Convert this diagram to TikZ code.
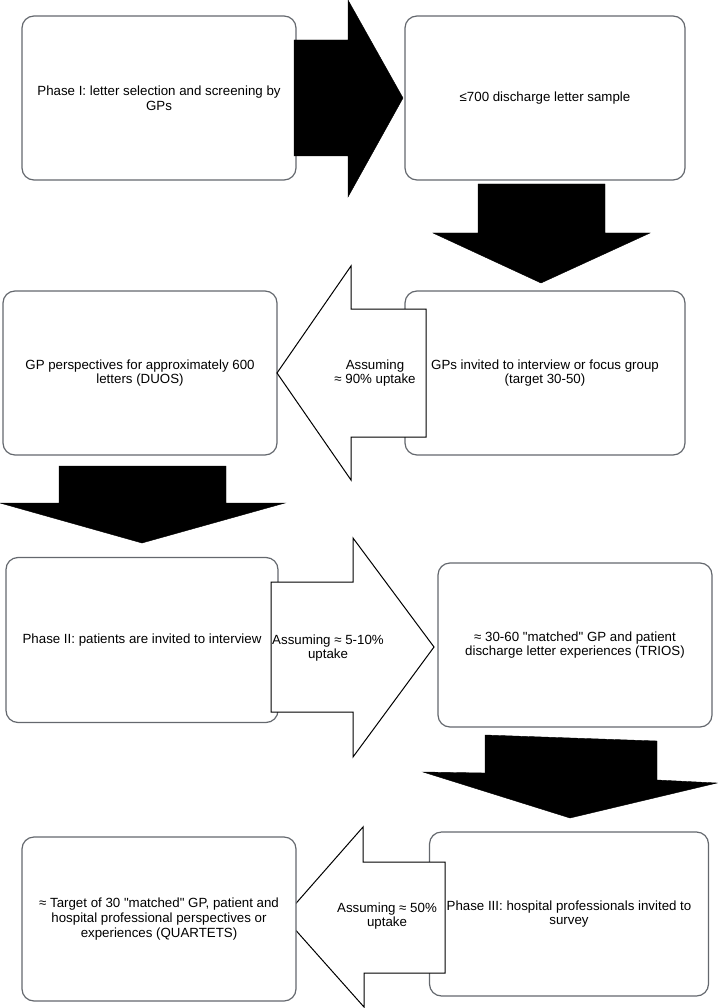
\documentclass[tikz,border=0pt]{standalone}
\usepackage{fontspec}
\setmainfont{Liberation Sans}
\usetikzlibrary{positioning}
\definecolor{boxgray}{RGB}{100,104,110}
\tikzset{
% Two box styles: rounded stage boxes and the texts inside the block arrows
stage box/.style={draw=boxgray,line width=1.2pt,rounded corners=12pt,fill=white,align=center,inner sep=0pt},
arrow text/.style={align=center,inner sep=0pt},
% Two block arrow styles: solid and hollow
solid arrow/.style={fill=black,draw=black,line width=0.4pt},
hollow arrow/.style={fill=white,draw=black,line width=1pt}
}

\begin{document}
\begin{tikzpicture}[x=1pt,y=-1pt,font=\fontsize{13.3}{14.6}\selectfont]
\useasboundingbox (0,0) rectangle (717,1008);
% Phase I
\node(letters)[stage box,minimum width=274,minimum height=164] at (159,98){Phase I: letter selection and screening by\\GPs};
\node(sample)[stage box,minimum width=280,minimum height=164] at (545,98){≤700 discharge letter sample};
\draw[solid arrow](294,40)--(348,40)--(348,0)--(403,98)--(348,197)--(348,156)--(294,156)--cycle;
\draw[solid arrow](478,184)--(605,184)--(605,233)--(650,233)--(541,283)--(433,233)--(478,233)--cycle;
% GP perspectives
\node(duos)[stage box,minimum width=274,minimum height=164] at (140,373){GP perspectives for approximately 600\\letters (DUOS)};
\node(gps)[stage box,minimum width=280,minimum height=164] at (545,373){GPs invited to interview or focus group\\(target 30-50)};
\draw[hollow arrow](426,309)--(351,309)--(351,266)--(277,373)--(351,480)--(351,437)--(426,437)--cycle;
\node(uptake1)[arrow text] at (375,373){Assuming\\≈ 90\% uptake};
\draw[solid arrow](59,466)--(226,466)--(226,503)--(285,503)--(142,543)--(0,503)--(59,503)--cycle;
% Phase II
\node(patients)[stage box,minimum width=272,minimum height=165] at (142,640){Phase II: patients are invited to interview};
\node(trios)[stage box,minimum width=274,minimum height=164] at (575,645){≈ 30-60 \textquotedbl matched\textquotedbl{} GP and patient\\discharge letter experiences (TRIOS)};
\draw[hollow arrow](271,582)--(353,582)--(353,538)--(434,647)--(353,757)--(353,712)--(271,712)--cycle;
\node(uptake2)[arrow text] at (328,648){Assuming ≈ 5-10\%\\uptake};
\draw[solid arrow](485,735)--(657,741)--(657,780)--(717,783)--(570,818)--(423,772)--(485,773)--cycle;
% Phase III
\node(hospital)[stage box,minimum width=279,minimum height=164] at (569,914){Phase III: hospital professionals invited to\\survey};
\draw[hollow arrow](445,862)--(363,862)--(363,827)--(284,917)--(364,1007)--(364,973)--(445,973)--cycle;
\node(uptake3)[arrow text] at (387,916){Assuming ≈ 50\%\\uptake};
\node(quartets)[stage box,minimum width=274,minimum height=164] at (159,919){≈ Target of 30 \textquotedbl matched\textquotedbl{} GP, patient and\\hospital professional perspectives or\\experiences (QUARTETS)};
\end{tikzpicture}
\end{document}
